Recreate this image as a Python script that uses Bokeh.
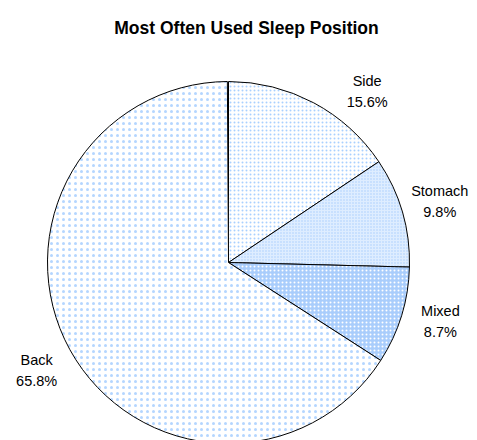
import numpy as np
from bokeh.plotting import figure
from bokeh.models import Range1d
from bokeh.embed import file_html
from bokeh.resources import INLINE
from bokeh.core.properties import value

title_text = "Most Often Used Sleep Position"
categories = ["Side", "Stomach", "Mixed", "Back"]
shares = [15.6, 9.8, 8.7, 65.8]

fill_colors = ["#ffffff", "#deedff", "#a9cdfc", "#ffffff"]
hatch_colors = ["#a9d0ff", "#a6ccfb", "#ffffff", "#b4d6ff"]
hatch_scales = [4, 3, 4, 6]
label_angle_nudge = [11, 0, -1.5, -0.5]  # degrees, clockwise

R = 181
LABEL_R = 220

p = figure(width=477, height=440, output_backend="svg", toolbar_location=None,
           x_range=Range1d(-228, 249), y_range=Range1d(-178, 262),
           min_border=0, outline_line_color=None)
p.axis.visible = False
p.grid.visible = False
p.background_fill_color = "white"

frac = np.array(shares) / 100.0
cum = np.concatenate([[0], np.cumsum(frac)])
for i, cat in enumerate(categories):
    start = np.pi / 2 - 2 * np.pi * cum[i]
    end = np.pi / 2 - 2 * np.pi * cum[i + 1]
    p.wedge(x=0, y=0, radius=R, start_angle=start, end_angle=end, direction="clock",
            fill_color=fill_colors[i], hatch_pattern="dot", hatch_color=hatch_colors[i],
            hatch_scale=hatch_scales[i], hatch_weight=1,
            line_color="black", line_width=1)

mids = (cum[:-1] + cum[1:]) / 2 * 360 + np.array(label_angle_nudge)
lx = LABEL_R * np.sin(np.radians(mids))
ly = LABEL_R * np.cos(np.radians(mids))
labels = [f"{c}\n{s:.1f}%" for c, s in zip(categories, shares)]
p.text(x=lx, y=ly, text=labels, text_align="center", text_baseline="middle",
       text_font=value("Liberation Sans"), text_font_size="14.5px", text_color="black",
       text_line_height=1.3)

p.text(x=[18], y=[235], text=[title_text], text_align="center", text_baseline="middle",
       text_font=value("Liberation Sans"), text_font_size="17.5px", text_font_style="bold",
       text_color="black")

open("out.html", "w").write(file_html(p, INLINE))
